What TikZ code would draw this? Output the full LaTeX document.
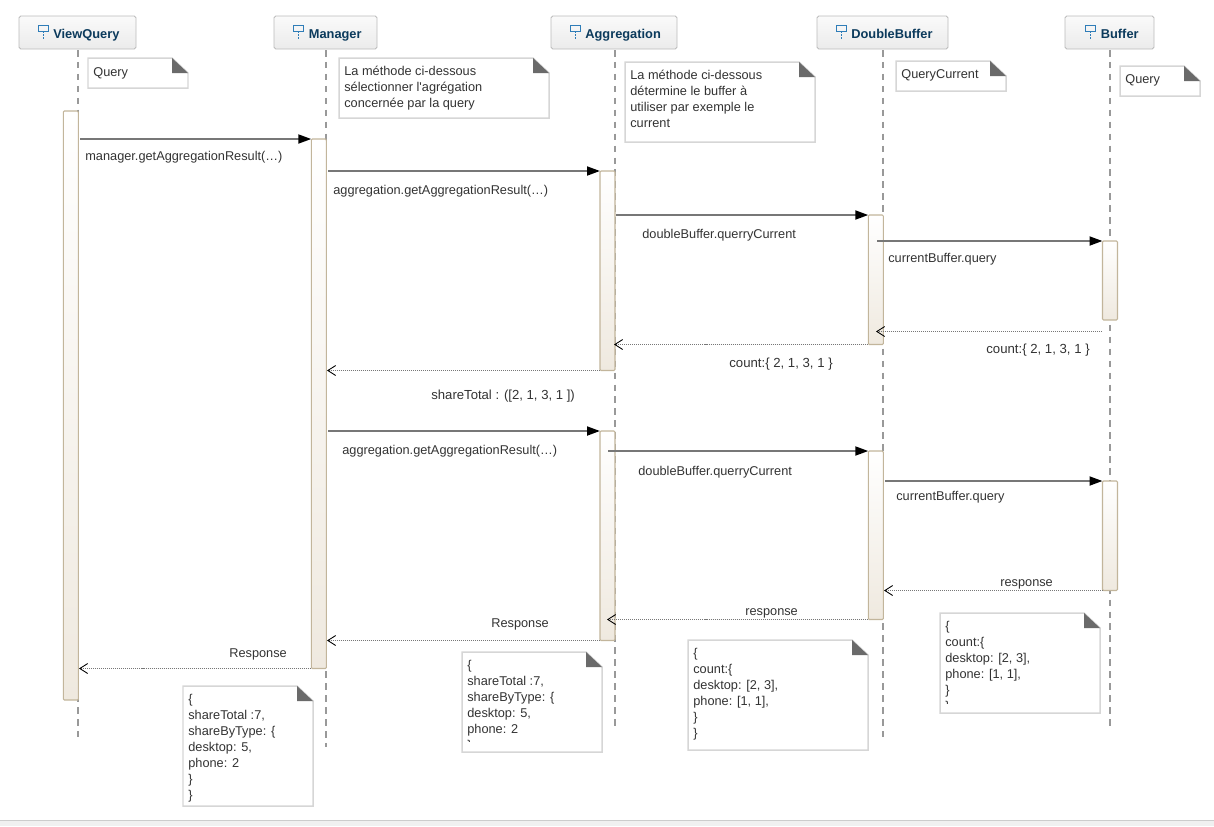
\documentclass[tikz,border=0pt]{standalone}
\usepackage{fontspec}
\setmainfont{Liberation Sans}
\usepackage{xcolor}
\usetikzlibrary{arrows.meta}
\definecolor{headLine}{HTML}{BBBBBB}
\definecolor{headTop}{HTML}{FAFAFA}
\definecolor{headBot}{HTML}{EBEBEB}
\definecolor{headInk}{HTML}{0B3A5C}
\definecolor{iconInk}{HTML}{2F7DB8}
\definecolor{lifeInk}{HTML}{999999}
\definecolor{barLine}{HTML}{C2B59B}
\definecolor{barBot}{HTML}{EFE9DF}
\definecolor{noteLine}{HTML}{D6D6D6}
\definecolor{noteFold}{HTML}{6A6A6A}
\definecolor{msgInk}{HTML}{777777}
\definecolor{txtInk}{HTML}{333333}
\definecolor{footLine}{HTML}{CCCCCC}
\definecolor{footFill}{HTML}{F0F0F0}
\tikzset{lifehead/.style={draw=headLine, line width=0.55pt, rounded corners=1pt, top color=headTop, bottom color=headBot, minimum height=33*0.02cm, inner sep=0pt, outer sep=0pt}}
\tikzset{headname/.style={anchor=base west, inner sep=0pt, text=headInk, font=\fontsize{7.3}{9}\selectfont\bfseries}}
\tikzset{lifeline/.style={draw=lifeInk, line width=1.1pt, dash pattern=on 3.7pt off 3.1pt}}
\tikzset{barbox/.style={draw=barLine, line width=0.6pt, rounded corners=0.6pt, top color=white, bottom color=barBot, minimum width=15*0.02cm, minimum height=#1*0.02cm, inner sep=0pt, outer sep=0pt, anchor=north}}
\tikzset{msgcall/.style={draw=msgInk, line width=1.1pt, -{Triangle[length=7.4pt,width=5.1pt,black]}}}
\tikzset{msgback/.style={draw=msgInk, line width=0.57pt, dash pattern=on 0.57pt off 0.567pt, -{Straight Barb[length=4.5pt,width=5.7pt,line width=0.5pt,black]}}}
\tikzset{msgtext/.style={anchor=base west, inner sep=0pt, text=txtInk, font=\fontsize{7.26}{9}\selectfont}}
\tikzset{notetext/.style={anchor=north west, inner sep=0pt, align=left, text=txtInk, font=\fontsize{7.26}{9.07}\selectfont}}
\tikzset{notepaper/.style={draw=noteLine, fill=white, line width=0.85pt}}
\newcommand{\headIcon}[1]{
\draw[iconInk, line width=0.5pt] (#1,25.5) rectangle (#1+10,31.5);
\draw[iconInk, line width=0.5pt, dash pattern=on 1pt off 0.7pt] (#1+5,31.5) -- (#1+5,39);
}
\newcommand{\notePaper}[4]{
\draw[notepaper] (#1,#2) -- (#3-16,#2) -- (#3,#2+15) -- (#3,#4) -- (#1,#4) -- cycle;
\fill[noteFold] (#3-16,#2) -- (#3,#2+15) -- (#3-16,#2+15) -- cycle;
}
\begin{document}
\begin{tikzpicture}[x=0.02cm, y=-0.02cm]
\useasboundingbox (0,0) rectangle (1214,826);

\fill[footFill] (0,820) rectangle (1214,826);
\draw[footLine, line width=0.57pt] (0,820.5) -- (1214,820.5);

% lifelines
\node[lifehead, minimum width=117*0.02cm] (viewQuery) at (77.5,32.5) {};
\node[lifehead, minimum width=103*0.02cm] (manager) at (325.5,32.5) {};
\node[lifehead, minimum width=126*0.02cm] (aggregation) at (614,32.5) {};
\node[lifehead, minimum width=131*0.02cm] (doubleBuffer) at (882.5,32.5) {};
\node[lifehead, minimum width=89*0.02cm] (buffer) at (1109.5,32.5) {};

\coordinate (viewQueryEnd) at (78,737);
\coordinate (managerEnd) at (326,747);
\coordinate (aggregationEnd) at (615,726);
\coordinate (doubleBufferEnd) at (883,737);
\coordinate (bufferEnd) at (1110,726);

\draw[lifeline] (78,50) -- (viewQueryEnd);
\draw[lifeline] (326,50) -- (managerEnd);
\draw[lifeline] (615,50) -- (aggregationEnd);
\draw[lifeline] (883,50) -- (doubleBufferEnd);
\draw[lifeline] (1110,50) -- (bufferEnd);

\headIcon{38}
\headIcon{293}
\headIcon{570}
\headIcon{836}
\headIcon{1085}
\node[headname] (viewQueryName) at (53,38) {ViewQuery};
\node[headname] (managerName) at (308.5,38) {Manager};
\node[headname] (aggregationName) at (585,38) {Aggregation};
\node[headname] (doubleBufferName) at (851,38) {DoubleBuffer};
\node[headname] (bufferName) at (1100.5,38) {Buffer};

% activations
\node[barbox=589] (viewQueryBar) at (70.8,111) {};
\node[barbox=529.5] (managerBar) at (318.8,139) {};
\node[barbox=199.5] (aggBarA) at (607.5,171) {};
\node[barbox=129.5] (dblBarA) at (875.8,215) {};
\node[barbox=79] (bufBarA) at (1110,241) {};
\node[barbox=209.5] (aggBarB) at (607.5,431) {};
\node[barbox=168.5] (dblBarB) at (875.8,451) {};
\node[barbox=109.5] (bufBarB) at (1110,481) {};

% notes
\notePaper{88}{58}{188}{88}
\node[notetext] (noteViewQuery) at (93,67) {Query};
\notePaper{339}{58}{549}{118}
\node[notetext] (noteManager) at (344,66) {La méthode ci-dessous\\sélectionner l\textquotesingle agrégation\\concernée par la query};
\notePaper{625}{62}{815}{142}
\node[notetext] (noteAggregation) at (630,70) {La méthode ci-dessous\\détermine le buffer à\\utiliser par exemple le\\current};
\notePaper{896}{61}{1006}{91}
\node[notetext] (noteDouble) at (901,69) {QueryCurrent};
\notePaper{1120}{66}{1200}{96}
\node[notetext] (noteBuffer) at (1125,74) {Query};
\notePaper{183}{686}{313}{806}
\node[notetext] (noteResultA) at (188,694) {\{\\shareTotal :7,\\shareByType: \{\\desktop: 5,\\phone: 2\\\}\\\}};
\notePaper{462}{652}{602}{752}
\begin{scope}
\clip (463,653) rectangle (600,741);
\node[notetext] (noteResultB) at (467,660) {\{\\shareTotal :7,\\shareByType: \{\\desktop: 5,\\phone: 2\\\}};
\end{scope}
\notePaper{688}{640}{868}{750}
\node[notetext] (noteCountA) at (693,648) {\{\\count:\{\\desktop: [2, 3],\\phone: [1, 1],\\\}\\\}};
\notePaper{940}{613}{1100}{713}
\begin{scope}
\clip (941,614) rectangle (1098,703);
\node[notetext] (noteCountB) at (945,621) {\{\\count:\{\\desktop: [2, 3],\\phone: [1, 1],\\\}\\\}};
\end{scope}

% calls
\coordinate (callA) at (80,139);
\coordinate (callB) at (328,171);
\coordinate (callC) at (616,215);
\coordinate (callD) at (877,241);
\coordinate (callE) at (328,431);
\coordinate (callF) at (608,451);
\coordinate (callG) at (885,481);
\draw[msgcall] (callA) -- (managerBar.north west);
\draw[msgcall] (callB) -- (aggBarA.north west);
\draw[msgcall] (callC) -- (dblBarA.north west);
\draw[msgcall] (callD) -- (bufBarA.north west);
\draw[msgcall] (callE) -- (aggBarB.north west);
\draw[msgcall] (callF) -- (dblBarB.north west);
\draw[msgcall] (callG) -- (bufBarB.north west);

% returns
\coordinate (backAfrom) at (1102,331.5);
\coordinate (backAto) at (876,331.5);
\coordinate (backBto) at (614,345);
\coordinate (backCto) at (327,370);
\coordinate (backDto) at (884,590);
\coordinate (backEto) at (607,619);
\coordinate (backFto) at (327,640);
\coordinate (backGto) at (79,668);
\draw[msgback] (backAfrom) -- (backAto);
\draw[msgback] (dblBarA.south west) -- (dblBarA.south west -| backBto);
\draw[msgback] (aggBarA.south west) -- (aggBarA.south west -| backCto);
\draw[msgback] (bufBarB.south west) -- (bufBarB.south west -| backDto);
\draw[msgback] (dblBarB.south west) -- (dblBarB.south west -| backEto);
\draw[msgback] (aggBarB.south west) -- (aggBarB.south west -| backFto);
\draw[msgback] (managerBar.south west) -- (managerBar.south west -| backGto);

% labels
\node[msgtext] (labelA) at (85,160) {manager.getAggregationResult(…)};
\node[msgtext] (labelB) at (333,194) {aggregation.getAggregationResult(…)};
\node[msgtext] (labelC) at (642,238) {doubleBuffer.querryCurrent};
\node[msgtext] (labelD) at (888,262) {currentBuffer.query};
\node[msgtext, font=\fontsize{7.5}{9}\selectfont] (labelE) at (986,353) {count:\{ 2, 1, 3, 1 \}};
\node[msgtext, font=\fontsize{7.5}{9}\selectfont] (labelF) at (729,367) {count:\{ 2, 1, 3, 1 \}};
\node[msgtext, font=\fontsize{7.47}{9}\selectfont] (labelG) at (431,399.5) {shareTotal : ([2, 1, 3, 1 ])};
\node[msgtext] (labelH) at (342,454) {aggregation.getAggregationResult(…)};
\node[msgtext] (labelI) at (638,475) {doubleBuffer.querryCurrent};
\node[msgtext] (labelJ) at (896,500) {currentBuffer.query};
\node[msgtext] (labelK) at (1000,586) {response};
\node[msgtext] (labelL) at (745,615) {response};
\node[msgtext] (labelM) at (491,627) {Response};
\node[msgtext] (labelN) at (229,657) {Response};

\end{tikzpicture}
\end{document}
